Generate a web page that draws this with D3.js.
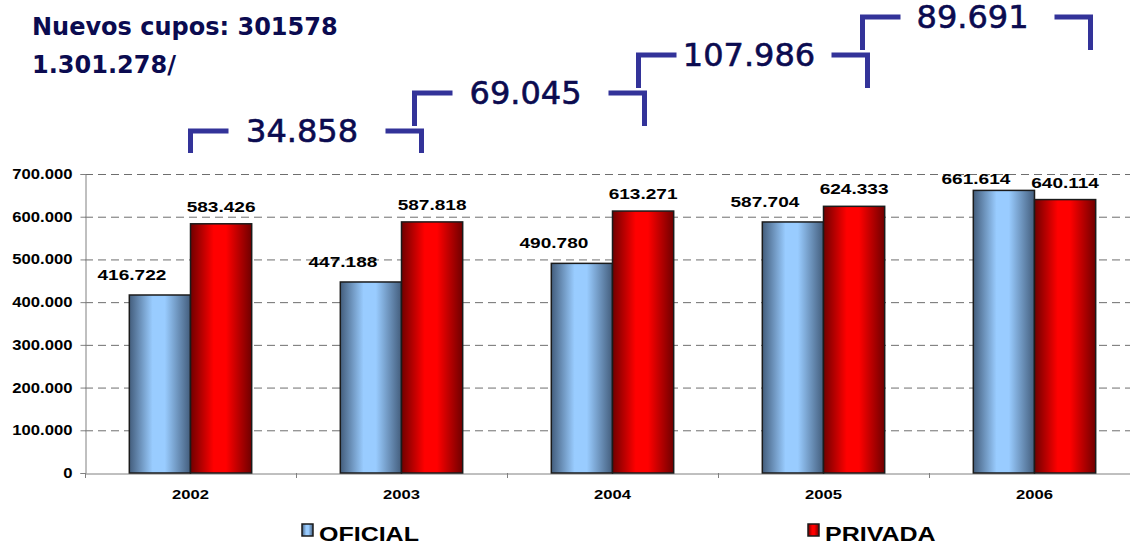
<!DOCTYPE html>
<html>
<head>
<meta charset="utf-8">
<script src="https://cdn.jsdelivr.net/npm/d3@7"></script>
<style>
  body { margin: 0; background: #fff; }
  svg { display: block; }
</style>
</head>
<body>
<div id="chart"></div>
<script>
// datos
var years = ["2002", "2003", "2004", "2005", "2006"];
var oficial = [416722, 447188, 490780, 587704, 661614];
var privada = [583426, 587818, 613271, 624333, 640114];
var nuevos = [34858, 69045, 107986, 89691];
var yTicks = [0, 100000, 200000, 300000, 400000, 500000, 600000, 700000];
var series = ["OFICIAL", "PRIVADA"];
var titulo = ["Nuevos cupos: 301578", "1.301.278/"];

var W = 1130, H = 544;
var plotLeft = 85, plotRight = 1140, plotTop = 174, plotBottom = 473;

var svg = d3.select('#chart').append('svg')
    .attr('width', W)
    .attr('height', H);

var fmt = d3.formatLocale({ decimal: ",", thousands: ".", grouping: [3], currency: ["", ""] }).format(",d");

var defs = svg.append('defs');
function barGradient(id, edge, mid) {
    var g = defs.append('linearGradient')
        .attr('id', id)
        .attr('x1', '0%').attr('x2', '100%')
        .attr('y1', '0%').attr('y2', '0%');
    g.append('stop').attr('offset', '0%').attr('stop-color', edge);
    g.append('stop').attr('offset', '38%').attr('stop-color', mid);
    g.append('stop').attr('offset', '58%').attr('stop-color', mid);
    g.append('stop').attr('offset', '100%').attr('stop-color', edge);
}
barGradient('gradOficial', '#435d7c', '#99ccff');
barGradient('gradPrivada', '#700000', '#ff0000');

var x = d3.scaleBand()
    .domain(years)
    .range([plotLeft, plotRight])
    .paddingInner(0.42)
    .paddingOuter(0.21);

var xs = d3.scaleBand()
    .domain(series)
    .range([0, x.bandwidth()]);

var y = d3.scaleLinear()
    .domain([0, 700000])
    .range([plotBottom, plotTop]);

// lineas de la grilla
svg.append('g')
    .selectAll('line')
    .data(yTicks.filter(d => d > 0))
    .enter().append('line')
    .attr('x1', plotLeft)
    .attr('x2', plotRight)
    .attr('y1', d => y(d) + 0.5)
    .attr('y2', d => y(d) + 0.5)
    .attr('stroke', '#6e6e6e')
    .attr('stroke-width', 1)
    .attr('stroke-dasharray', '8,5');

// eje y
var yAxis = svg.append('g')
    .attr('transform', 'translate(' + (plotLeft + 0.5) + ',0)')
    .call(d3.axisLeft(y).tickValues(yTicks).tickFormat(fmt).tickSize(5).tickPadding(8));
yAxis.select('.domain').attr('stroke', '#808080');
yAxis.selectAll('.tick line').attr('stroke', '#808080');
yAxis.selectAll('text')
    .attr('fill', '#000')
    .style('font-family', 'Liberation Sans, Arial, sans-serif')
    .style('font-weight', 'bold')
    .style('font-size', '14px')
    .each(function () {
        var t = d3.select(this);
        var tx = +t.attr('x');
        t.attr('x', 0).attr('transform', 'translate(' + tx + ',0) scale(1.19,1)');
    });

// eje x
var xAxis = svg.append('g')
    .attr('transform', 'translate(0,' + (plotBottom + 0.5) + ')')
    .call(d3.axisBottom(x).tickSize(0).tickPadding(16));
xAxis.select('.domain').attr('stroke', '#808080');
xAxis.selectAll('text')
    .attr('fill', '#000')
    .style('font-family', 'Liberation Sans, Arial, sans-serif')
    .style('font-weight', 'bold')
    .style('font-size', '13px')
    .attr('transform', 'scale(1.28,1)');

// marcas entre categorias
svg.append('g')
    .selectAll('line')
    .data(d3.range(years.length + 1))
    .enter().append('line')
    .attr('x1', d => Math.round(plotLeft + d * x.step()) + 0.5)
    .attr('x2', d => Math.round(plotLeft + d * x.step()) + 0.5)
    .attr('y1', plotBottom)
    .attr('y2', plotBottom + 5)
    .attr('stroke', '#808080');

// barras
var groups = svg.append('g')
    .selectAll('g')
    .data(years)
    .enter().append('g')
    .attr('transform', d => 'translate(' + x(d) + ',0)');

groups.append('rect')
    .attr('x', xs('OFICIAL'))
    .attr('width', xs.bandwidth())
    .attr('y', (d, i) => y(oficial[i]))
    .attr('height', (d, i) => plotBottom - y(oficial[i]))
    .attr('style', 'fill:url(#gradOficial);stroke:#1b1b1b;stroke-width:1.5;');

groups.append('rect')
    .attr('x', xs('PRIVADA'))
    .attr('width', xs.bandwidth())
    .attr('y', (d, i) => y(privada[i]))
    .attr('height', (d, i) => plotBottom - y(privada[i]))
    .attr('style', 'fill:url(#gradPrivada);stroke:#1b1b1b;stroke-width:1.5;');

// etiquetas de valores
function valueLabel(g, xx, yy, txt) {
    g.append('text')
        .attr('transform', 'translate(' + xx + ',' + yy + ') scale(1.27,1)')
        .attr('text-anchor', 'middle')
        .style('font-family', 'Liberation Sans, Arial, sans-serif')
        .style('font-weight', 'bold')
        .style('font-size', '15px')
        .attr('fill', '#000')
        .text(txt);
}
groups.each(function (d, i) {
    var g = d3.select(this);
    var cxO = xs('OFICIAL') + xs.bandwidth() / 2;
    var cxP = xs('PRIVADA') + xs.bandwidth() / 2;
    valueLabel(g, cxO - 28, Math.max(y(oficial[i]) - 15, 184), fmt(oficial[i]));
    valueLabel(g, cxP, y(privada[i]) - 12, fmt(privada[i]));
});

// titulo
svg.append('g')
    .selectAll('text')
    .data(titulo)
    .enter().append('text')
    .attr('x', 32)
    .attr('y', (d, i) => 35 + i * 38)
    .style('font-family', 'DejaVu Sans, Verdana, sans-serif')
    .style('font-weight', 'bold')
    .style('font-size', '24px')
    .attr('fill', '#0b0b50')
    .text(d => d);

// corchetes con los nuevos cupos
var cx = d => x(d) + x.bandwidth() / 2;
var brackets = nuevos.map(function (v, i) {
    var L = cx(years[i]) + 13 * i;
    var R = cx(years[i + 1]) + 20 + 12 * i;
    var t = 131 - 38 * i;
    var b = t + (i === 0 ? 22 : 33);
    return { v: v, L: L, R: R, t: t, b: b };
});

var br = svg.append('g');
br.selectAll('path')
    .data(brackets)
    .enter().append('path')
    .attr('d', d => 'M' + d.L + ',' + d.b + 'V' + d.t + 'H' + (d.L + 38) +
        'M' + (d.R - 36) + ',' + d.t + 'H' + d.R + 'V' + d.b)
    .attr('fill', 'none')
    .attr('stroke', '#333399')
    .attr('stroke-width', 5)
    .attr('stroke-linejoin', 'miter');

br.selectAll('text')
    .data(brackets)
    .enter().append('text')
    .attr('x', d => (d.L + d.R) / 2 - 4)
    .attr('y', d => d.t + 11)
    .attr('text-anchor', 'middle')
    .style('font-family', 'DejaVu Sans, Verdana, sans-serif')
    .style('font-size', '32px')
    .attr('fill', '#0b0b50')
    .attr('stroke', '#0b0b50')
    .attr('stroke-width', 0.6)
    .text(d => fmt(d.v));

// leyenda
var legend = svg.append('g');
var legendX = [302, 808];
series.forEach(function (s, i) {
    legend.append('rect')
        .attr('x', legendX[i])
        .attr('y', 524)
        .attr('width', 11)
        .attr('height', 12)
        .attr('style', 'fill:url(#' + (i === 0 ? 'gradOficial' : 'gradPrivada') + ');stroke:#1b1b1b;stroke-width:1.5;');
    legend.append('text')
        .attr('transform', 'translate(' + (legendX[i] + 17) + ',541) scale(1.25,1)')
        .style('font-family', 'Liberation Sans, Arial, sans-serif')
        .style('font-weight', 'bold')
        .style('font-size', '20px')
        .attr('fill', '#000')
        .text(s);
});
</script>
</body>
</html>
